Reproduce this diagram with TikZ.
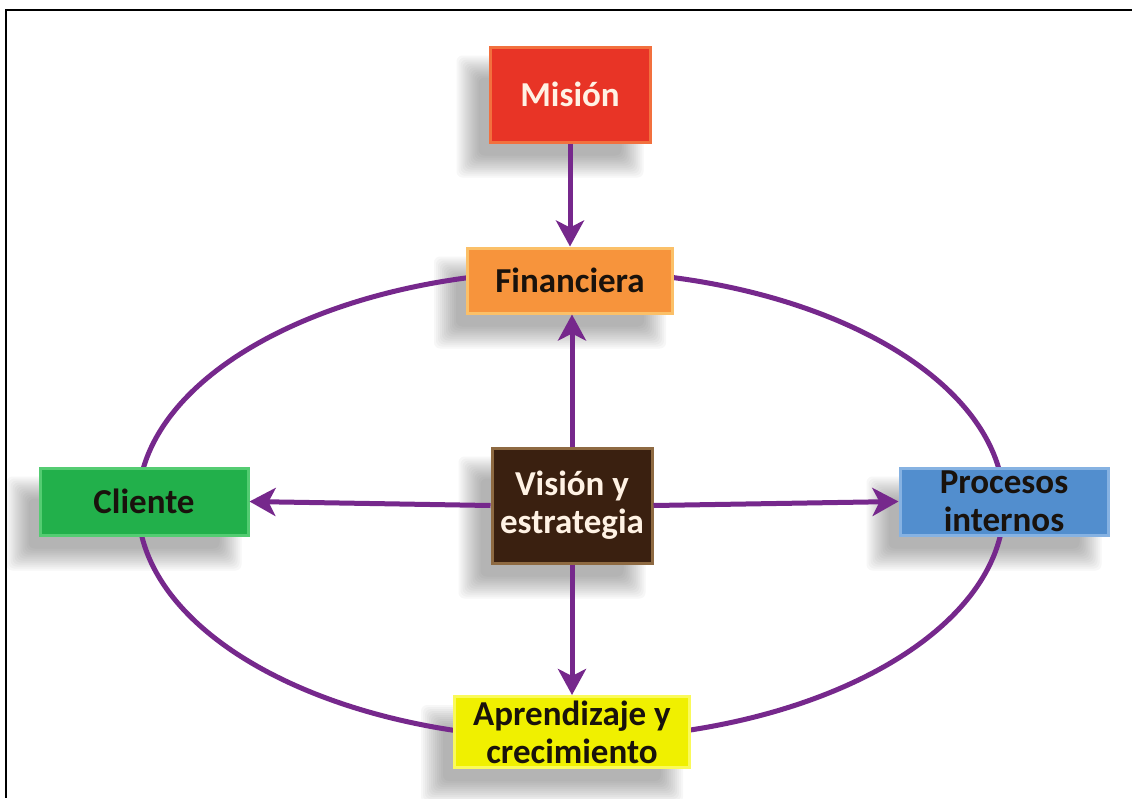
\documentclass[tikz,border=0pt]{standalone}
\usepackage{fontspec}
\setmainfont{Carlito}
\usetikzlibrary{arrows.meta,calc}

\definecolor{linkpurple}{RGB}{118,40,140}
\definecolor{misionfill}{RGB}{232,52,38}
\definecolor{misionedge}{RGB}{242,112,62}
\definecolor{finfill}{RGB}{247,148,60}
\definecolor{finedge}{RGB}{251,192,104}
\definecolor{clifill}{RGB}{34,176,75}
\definecolor{cliedge}{RGB}{84,204,114}
\definecolor{visfill}{RGB}{58,32,16}
\definecolor{visedge}{RGB}{142,106,66}
\definecolor{profill}{RGB}{82,142,206}
\definecolor{proedge}{RGB}{134,178,226}
\definecolor{aprfill}{RGB}{240,240,0}
\definecolor{apredge}{RGB}{250,250,90}
\definecolor{lighttext}{RGB}{255,242,228}
\definecolor{darktext}{RGB}{25,18,12}
\definecolor{shadegray}{RGB}{70,70,70}

\pgfdeclarelayer{shade}
\pgfsetlayers{shade,main}

\tikzset{
  card/.style={rectangle, inner sep=0pt, align=center, line width=3pt,
    font=\bfseries\fontsize{35}{38}\selectfont},
  link/.style={draw=linkpurple, line width=5pt,
    -{Stealth[length=26pt,width=28pt,inset=7pt]}},
  ring/.style={draw=linkpurple, line width=5pt},
  frame/.style={draw=black, line width=2pt},
  shadelayer/.style={fill=shadegray, opacity=0.04, rounded corners=6pt}
}

% soft drop shadow, offset left and down from a named node
\newcommand{\softshadow}[1]{%
  \foreach \k in {0,...,11}{%
    \fill[shadelayer]
      ($(#1.north west)+(-20-12+2*\k, 22-12+2*\k)$) rectangle
      ($(#1.south east)+(-20+12-2*\k, 22+12-2*\k)$);
  }%
}

\begin{document}
\begin{tikzpicture}[x=1pt,y=-1pt]
  \useasboundingbox (0,0) rectangle (1132,798);
  \begin{pgfonlayer}{shade}
    \fill[white] (0,0) rectangle (1132,798);
  \end{pgfonlayer}

  % outer frame (top and left edges)
  \draw[frame] (1132,10) -- (6,10) -- (6,798);

  % perspective ring
  \draw[ring] (571,505) ellipse [x radius=433, y radius=234];

  % boxes
  \node[card, fill=misionfill, draw=misionedge, text=lighttext,
        minimum width=160pt, minimum height=95pt] (mision) at (570,94.5) {Misión};
  \node[card, fill=finfill, draw=finedge, text=darktext,
        minimum width=205pt, minimum height=65pt] (fin) at (570,280.5) {Financiera};
  \node[card, fill=clifill, draw=cliedge, text=darktext,
        minimum width=208pt, minimum height=67pt] (cli) at (144,501.5) {Cliente};
  \node[card, fill=visfill, draw=visedge, text=lighttext,
        minimum width=160pt, minimum height=115pt] (vis) at (572,505.5) {Visión y\\estrategia};
  \node[card, fill=profill, draw=proedge, text=darktext,
        minimum width=208pt, minimum height=67pt] (pro) at (1004,501.5) {Procesos\\internos};
  \node[card, fill=aprfill, draw=apredge, text=darktext,
        minimum width=235pt, minimum height=71pt] (apr) at (572,732) {Aprendizaje y\\crecimiento};

  % shadows behind the boxes
  \begin{pgfonlayer}{shade}
    \softshadow{mision}
    \softshadow{fin}
    \softshadow{cli}
    \softshadow{vis}
    \softshadow{pro}
    \softshadow{apr}
  \end{pgfonlayer}

  % connectors
  \draw[link] (mision.south) -- (fin.north);
  \draw[link] (vis.north) -- (vis.north |- fin.south);
  \draw[link] (vis.west) -- (cli.east);
  \draw[link] (vis.east) -- (pro.west);
  \draw[link] (vis.south) -- (apr.north);
\end{tikzpicture}
\end{document}
